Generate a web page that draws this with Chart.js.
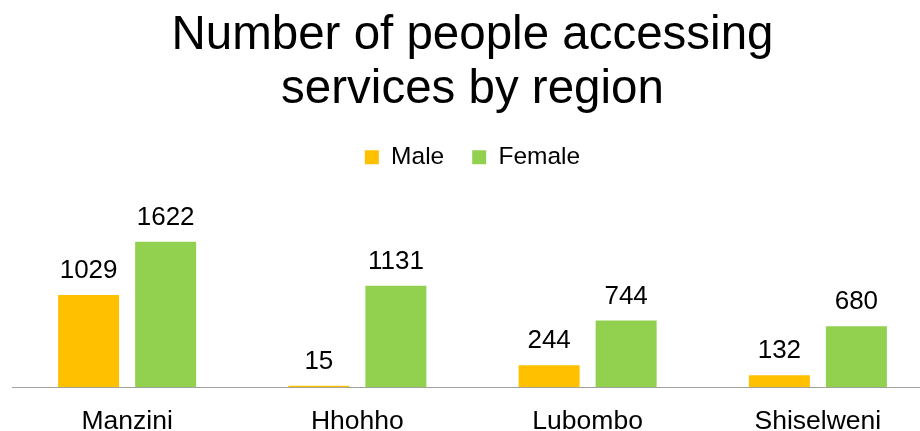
<!DOCTYPE html>
<html>
<head>
<meta charset="utf-8">
<script src="https://cdn.jsdelivr.net/npm/chart.js@4/dist/chart.umd.min.js"></script>
<style>
  html, body { margin: 0; padding: 0; background: #fff; overflow: hidden; }
  #clip { width: 920px; height: 431px; overflow: hidden; }
  #wrap { position: relative; width: 944px; height: 457px; }
</style>
</head>
<body>
<div id="clip"><div id="wrap"><canvas id="c"></canvas></div></div>
<script>
const categories = ["Manzini", "Hhohho", "Lubombo", "Shiselweni"];
const maleValues = [1029, 15, 244, 132];
const femaleValues = [1622, 1131, 744, 680];
const seriesNames = ["Male", "Female"];
const titleLines = ["Number of people accessing", "services by region"];

const FONT = "'Liberation Sans', Arial, Helvetica, sans-serif";

const dataLabels = {
  id: 'dataLabels',
  afterDatasetsDraw(chart) {
    const ctx = chart.ctx;
    ctx.save();
    ctx.font = "26px " + FONT;
    ctx.fillStyle = "#000000";
    ctx.textAlign = "center";
    ctx.textBaseline = "alphabetic";
    chart.data.datasets.forEach((ds, i) => {
      const meta = chart.getDatasetMeta(i);
      meta.data.forEach((bar, j) => {
        ctx.fillText(String(ds.data[j]), bar.x, bar.y - 17);
      });
    });
    ctx.restore();
  }
};

new Chart(document.getElementById('c'), {
  type: 'bar',
  data: {
    labels: categories,
    datasets: [
      { label: seriesNames[0], data: maleValues, backgroundColor: '#FFC000', borderWidth: 0 },
      { label: seriesNames[1], data: femaleValues, backgroundColor: '#92D050', borderWidth: 0 }
    ]
  },
  options: {
    responsive: true,
    maintainAspectRatio: false,
    animation: false,
    devicePixelRatio: 1,
    categoryPercentage: 0.669,
    barPercentage: 0.792,
    layout: { padding: { left: 12, right: 11, top: 0, bottom: 0 } },
    plugins: {
      title: {
        display: true,
        text: titleLines,
        color: '#000000',
        font: { family: FONT, size: 47.5, weight: 'normal', lineHeight: 1.137 },
        padding: { top: 9, bottom: 0 }
      },
      legend: {
        display: true,
        position: 'top',
        labels: {
          color: '#000000',
          font: { family: FONT, size: 24.5 },
          boxWidth: 14,
          boxHeight: 14,
          padding: 28
        }
      },
      tooltip: { enabled: false }
    },
    scales: {
      x: {
        grid: { display: false, drawTicks: false },
        border: { display: true, color: '#A0A0A0', width: 1 },
        ticks: { color: '#000000', font: { family: FONT, size: 26.5 }, padding: 19, maxRotation: 0 }
      },
      y: {
        display: false,
        min: 0,
        max: 2318,
        grid: { display: false }
      }
    }
  },
  plugins: [dataLabels]
});
</script>
</body>
</html>
